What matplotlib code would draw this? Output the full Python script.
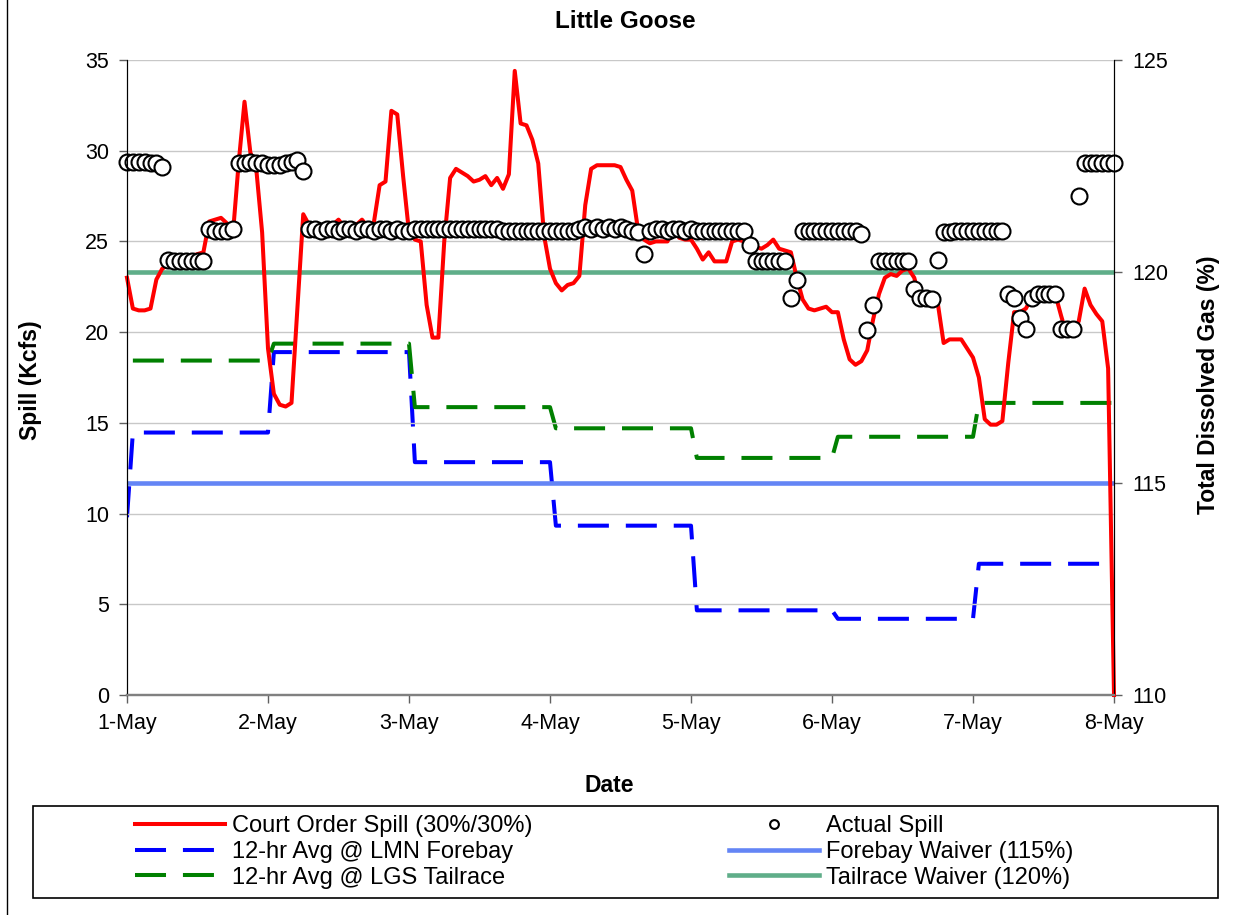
import numpy as np
import matplotlib.pyplot as plt
from matplotlib.patches import Rectangle
from matplotlib.lines import Line2D

plt.rcParams['font.family'] = ['Liberation Sans', 'DejaVu Sans']

# hourly values, 1-May 00:00 .. 8-May 00:00 (169 points)
court_order = [
    23.0, 21.3, 21.2, 21.2, 21.3, 22.9, 23.5, 23.7, 23.9, 24.0, 24.1, 24.2,
    24.3, 24.4, 26.1, 26.2, 26.3, 26.0, 25.3, 29.3, 32.7, 29.9, 29.0, 25.5,
    19.1, 16.6, 16.0, 15.9, 16.1, 21.3, 26.5, 25.9, 25.8, 25.8, 25.8, 25.9,
    26.2, 25.8, 25.8, 25.9, 26.2, 25.8, 26.0, 28.1, 28.3, 32.2, 32.0, 28.6,
    25.5, 25.1, 25.0, 21.5, 19.7, 19.7, 25.0, 28.5, 29.0, 28.8, 28.6, 28.3,
    28.4, 28.6, 28.1, 28.5, 27.9, 28.7, 34.4, 31.5, 31.4, 30.6, 29.3, 25.3,
    23.5, 22.7, 22.3, 22.6, 22.7, 23.1, 27.0, 29.0, 29.2, 29.2, 29.2, 29.2,
    29.1, 28.4, 27.8, 25.6, 25.1, 24.9, 25.0, 25.0, 25.0, 25.8, 25.2, 25.1,
    25.1, 24.6, 24.0, 24.4, 23.9, 23.9, 23.9, 25.0, 25.1, 25.0, 24.8, 24.7,
    24.6, 24.8, 25.1, 24.6, 24.5, 24.4, 23.0, 21.8, 21.3, 21.2, 21.3, 21.4,
    21.1, 21.1, 19.6, 18.5, 18.2, 18.4, 19.0, 20.7, 22.1, 23.0, 23.2, 23.1,
    23.4, 23.5, 23.0, 21.8, 21.5, 21.6, 21.6, 19.4, 19.6, 19.6, 19.6, 19.1,
    18.6, 17.5, 15.2, 14.9, 14.9, 15.1, 18.3, 21.1, 21.1, 21.3, 21.9, 22.2,
    22.4, 22.4, 22.1, 20.9, 19.8, 20.2, 20.6, 22.4, 21.5, 21.0, 20.6, 18.0,
    0.0,
]

actual_spill = [
    29.4, 29.4, 29.4, 29.4, 29.3, 29.3, 29.1, 24.0, 23.9, 23.9, 23.9, 23.9,
    23.9, 23.9, 25.7, 25.6, 25.6, 25.6, 25.7, 29.3, 29.3, 29.4, 29.3, 29.3,
    29.2, 29.2, 29.2, 29.3, 29.4, 29.5, 28.9, 25.7, 25.7, 25.6, 25.7, 25.7,
    25.6, 25.7, 25.7, 25.6, 25.7, 25.7, 25.6, 25.7, 25.7, 25.6, 25.7, 25.6,
    25.6, 25.7, 25.7, 25.7, 25.7, 25.7, 25.7, 25.7, 25.7, 25.7, 25.7, 25.7,
    25.7, 25.7, 25.7, 25.7, 25.6, 25.6, 25.6, 25.6, 25.6, 25.6, 25.6, 25.6,
    25.6, 25.6, 25.6, 25.6, 25.6, 25.7, 25.8, 25.7, 25.8, 25.7, 25.8, 25.7,
    25.8, 25.7, 25.6, 25.5, 24.3, 25.6, 25.7, 25.7, 25.6, 25.7, 25.7, 25.6,
    25.7, 25.6, 25.6, 25.6, 25.6, 25.6, 25.6, 25.6, 25.6, 25.6, 24.8, 23.9,
    23.9, 23.9, 23.9, 23.9, 23.9, 21.9, 22.9, 25.6, 25.6, 25.6, 25.6, 25.6,
    25.6, 25.6, 25.6, 25.6, 25.6, 25.4, 20.1, 21.5, 23.9, 23.9, 23.9, 23.9,
    23.9, 23.9, 22.4, 21.9, 21.9, 21.8, 24.0, 25.5, 25.5, 25.6, 25.6, 25.6,
    25.6, 25.6, 25.6, 25.6, 25.6, 25.6, 22.1, 21.9, 20.8, 20.2, 21.9, 22.1,
    22.1, 22.1, 22.1, 20.2, 20.2, 20.2, 27.5, 29.3, 29.3, 29.3, 29.3, 29.3,
    29.3,
]

# 12-hr average TDG (%), one level per day, first hour of record separate
lmn_first = 114.2
lmn_daily = [116.2, 118.1, 115.5, 114.0, 112.0, 111.8, 113.1]
lgs_first = np.nan
lgs_daily = [117.9, 118.3, 116.8, 116.3, 115.6, 116.1, 116.9]

forebay_waiver = 115
tailrace_waiver = 120

day_labels = ['1-May', '2-May', '3-May', '4-May', '5-May', '6-May', '7-May', '8-May']

t = np.arange(len(court_order)) / 24.0
lmn = np.concatenate([[lmn_first], np.repeat(lmn_daily, 24)])
lgs = np.concatenate([[lgs_first], np.repeat(lgs_daily, 24)])

fig = plt.figure(figsize=(12.33, 9.15), dpi=100)
W, H = 1233, 915
ax = fig.add_axes([127 / W, 1 - 695 / H, (1114 - 127) / W, (695 - 60) / H])
ax2 = ax.twinx()
ax.set_zorder(ax2.get_zorder() + 1)
ax.patch.set_visible(False)

dash = (0, (7.7, 4.2))
l_lmn, = ax2.plot(t, lmn, color='#0000FF', lw=2.9, ls=dash, dash_capstyle='butt')
l_lgs, = ax2.plot(t, lgs, color='#008000', lw=2.9, ls=dash, dash_capstyle='butt')
l_fb = ax2.axhline(forebay_waiver, color='#6485F5', lw=3.3)
l_tr = ax2.axhline(tailrace_waiver, color='#5FAE89', lw=3.3)

l_co, = ax.plot(t, court_order, color='#FF0000', lw=2.9, clip_on=False)
l_as, = ax.plot(t, actual_spill, 'o', ms=11.5, mfc='white', mec='black', mew=1.5,
                clip_on=False)

ax.set_xlim(0, 7)
ax.set_ylim(0, 35)
ax.set_yticks(np.arange(0, 36, 5))
ax.set_xticks(np.arange(8))
ax.set_xticklabels(day_labels)
ax2.set_ylim(110, 125)
ax2.set_yticks([110, 115, 120, 125])

ax.yaxis.grid(True, color='#C8C8C8', lw=1)
ax.set_axisbelow(True)

for a in (ax, ax2):
    a.spines['top'].set_visible(False)
    a.spines['bottom'].set_color('#808080')
    a.spines['bottom'].set_linewidth(1.6)
    a.spines['left'].set_color('black')
    a.spines['right'].set_color('black')
ax.tick_params(axis='both', direction='out', length=6, width=1, color='#606060',
               labelsize=15.5, pad=7)
ax2.tick_params(axis='y', direction='out', length=6, width=1, color='#606060',
                labelsize=15.5, pad=7)

fig.text(625 / W, 1 - 22 / H, 'Little Goose', ha='center', va='center',
         fontsize=17.5, fontweight='bold')
fig.text(30 / W, 1 - 380 / H, 'Spill (Kcfs)', ha='center', va='center',
         rotation=90, fontsize=16.5, fontweight='bold')
fig.text(1208 / W, 1 - 385 / H, 'Total Dissolved Gas (%)', ha='center', va='center',
         rotation=90, fontsize=16.5, fontweight='bold')
fig.text(609 / W, 1 - 785 / H, 'Date', ha='center', va='center',
         fontsize=16.5, fontweight='bold')

handles = [l_co, l_lmn, l_lgs, l_as, l_fb, l_tr]
labels = ['Court Order Spill (30%/30%)', '12-hr Avg @ LMN Forebay',
          '12-hr Avg @ LGS Tailrace', 'Actual Spill', 'Forebay Waiver (115%)',
          'Tailrace Waiver (120%)']
fig.legend(handles, labels, ncol=2, loc='upper left',
           bbox_to_anchor=(135 / W, 1 - 815 / H), frameon=False, fontsize=17,
           borderpad=0, borderaxespad=0, handlelength=3.8, handletextpad=0.3,
           columnspacing=8.35, labelspacing=0.16, markerscale=0.55)

fig.add_artist(Rectangle((33 / W, 1 - 898 / H), (1218 - 33) / W, (898 - 806) / H,
                         transform=fig.transFigure, fill=False, ec='black', lw=1.2))
fig.add_artist(Line2D([7 / W, 7 / W], [0, 1], transform=fig.transFigure,
                      color='black', lw=1))

fig.savefig('out.png', dpi=100)
